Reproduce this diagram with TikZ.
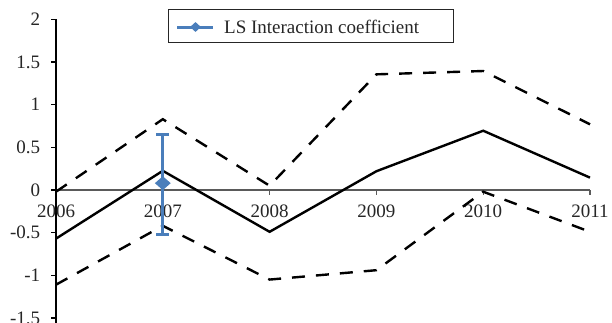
\documentclass[tikz,border=0pt]{standalone}
\usepackage{fontspec}
\setmainfont{Liberation Serif}
\usetikzlibrary{shapes.geometric}
\definecolor{lsblue}{RGB}{74,126,187}
\definecolor{axisgray}{RGB}{90,90,90}
\tikzset{
  solidline/.style={line width=2.4pt, black, line join=miter},
  dashline/.style={line width=2.4pt, black, dash pattern=on 13pt off 11pt},
  axisline/.style={line width=1.3pt},
  lbl/.style={font=\fontsize{19}{22}\selectfont, text=black!85, inner sep=0pt},
  diam/.style 2 args={diamond, fill=lsblue, inner sep=0pt, minimum width=#1, minimum height=#2},
  errbar/.style={line width=3pt, lsblue}
}
\begin{document}
\begin{tikzpicture}
\useasboundingbox (0,0) rectangle (612pt,-322pt);
\begin{scope}[shift={(56pt,-190pt)}, x=106.8pt, y=85.3pt]
  % axes
  \coordinate (ytop) at (0,2.0);
  \coordinate (ybot) at (0,-1.62);
  \coordinate (xl) at (0,0);
  \coordinate (xr) at (5,0);
  \draw[axisline, axisgray] (xl) -- (xr);
  \foreach \k in {0,...,5} \draw[axisline, axisgray] (\k,0) -- ++(0,-4.5pt);
  \draw[axisline, black] (ytop) -- (ybot);
  \foreach \v in {2,1.5,1,0.5,0,-0.5,-1,-1.5} \draw[axisline, black] (0,\v) -- ++(-5pt,0);
  % y labels
  \foreach \v/\t in {2/2,1.5/1.5,1/1,0.5/0.5,0/0,-0.5/-0.5,-1/-1,-1.5/-1.5}
    \node[lbl, anchor=east] (yl\t) at (-0.147,\v) {\t};
  % x labels
  \foreach \k/\yr in {0/2006,1/2007,2/2008,3/2009,4/2010,5/2011}
    \node[lbl] (xlab\yr) at (\k,-0.25) {\yr};
  % data
  \coordinate (s0) at (0,-0.57);
  \coordinate (s1) at (1,0.225);
  \coordinate (s2) at (2,-0.49);
  \coordinate (s3) at (3,0.22);
  \coordinate (s4) at (4,0.695);
  \coordinate (s5) at (5,0.145);
  \coordinate (u0) at (0,-0.02);
  \coordinate (u1) at (1,0.83);
  \coordinate (u2) at (2,0.05);
  \coordinate (u3) at (3,1.356);
  \coordinate (u4) at (4,1.395);
  \coordinate (u5) at (5,0.77);
  \coordinate (d0) at (0,-1.11);
  \coordinate (d1) at (1,-0.42);
  \coordinate (d2) at (2,-1.05);
  \coordinate (d3) at (3,-0.94);
  \coordinate (d4) at (4,-0.02);
  \coordinate (d5) at (5,-0.49);
  \draw[solidline] (s0) -- (s1) -- (s2) -- (s3) -- (s4) -- (s5);
  \draw[dashline] (u0) -- (u1) -- (u2) -- (u3) -- (u4) -- (u5);
  \draw[dashline] (d0) -- (d1) -- (d2) -- (d3) -- (d4) -- (d5);
  % error bar
  \coordinate (etop) at (1,0.645);
  \coordinate (ebot) at (1,-0.527);
  \draw[errbar] (etop) -- (ebot);
  \draw[errbar] ([xshift=-6.5pt]etop) -- ([xshift=6.5pt]etop);
  \draw[errbar] ([xshift=-6.5pt]ebot) -- ([xshift=6.5pt]ebot);
  \node[diam={16pt}{14pt}] (pt) at (1,0.08) {};
\end{scope}
% legend
\node[draw=black!85, line width=1pt, minimum width=285pt, minimum height=33pt, inner sep=0pt] (leg) at (310.8pt,-26.4pt) {};
\coordinate (lga) at (177pt,-27pt);
\coordinate (lgb) at (213pt,-27pt);
\draw[line width=3pt, lsblue] (lga) -- (lgb);
\node[diam={11pt}{10pt}] (lgd) at (195.5pt,-27pt) {};
\node[lbl, anchor=west] (lgt) at (224pt,-26.7pt) {LS Interaction coefficient};
\end{tikzpicture}
\end{document}
